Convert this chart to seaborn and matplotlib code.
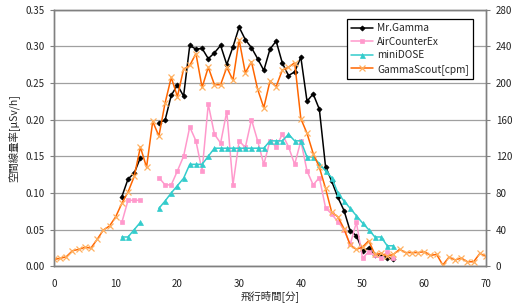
import numpy as np
import pandas as pd
import matplotlib
matplotlib.use("Agg")
import matplotlib.pyplot as plt
import seaborn as sns
from matplotlib.lines import Line2D

# ---- data ----
t_a = [11, 12, 13, 14]
t_b = list(range(17, 56))

gamma_a = [0.095, 0.119, 0.127, 0.148]
gamma_b = [0.196, 0.199, 0.233, 0.247, 0.232, 0.301, 0.296, 0.297, 0.283, 0.291,
           0.301, 0.275, 0.299, 0.326, 0.309, 0.298, 0.283, 0.267, 0.296, 0.307,
           0.277, 0.260, 0.265, 0.285, 0.225, 0.235, 0.214, 0.136, 0.116, 0.094,
           0.076, 0.048, 0.042, 0.021, 0.025, 0.015, 0.015, 0.012, 0.010]

air_a = [0.060, 0.090, 0.090, 0.090]
air_b = [0.121, 0.111, 0.111, 0.130, 0.150, 0.190, 0.171, 0.130, 0.221, 0.180,
         0.168, 0.211, 0.111, 0.171, 0.162, 0.200, 0.171, 0.139, 0.171, 0.163,
         0.180, 0.163, 0.139, 0.171, 0.130, 0.111, 0.121, 0.080, 0.071, 0.061,
         0.050, 0.030, 0.060, 0.011, 0.020, 0.015, 0.011, 0.020, 0.011]

mini_a = [0.040, 0.040, 0.050, 0.060]
mini_b = [0.079, 0.089, 0.100, 0.110, 0.120, 0.139, 0.139, 0.139, 0.150, 0.161,
          0.161, 0.161, 0.161, 0.161, 0.161, 0.161, 0.161, 0.161, 0.171, 0.171,
          0.171, 0.180, 0.171, 0.171, 0.149, 0.149, 0.140, 0.130, 0.121, 0.100,
          0.089, 0.079, 0.069, 0.059, 0.050, 0.040, 0.040, 0.028, 0.028]

t_scout = list(range(0, 71))
scout_cpm = [7.6, 8.7, 10.5, 17, 18.5, 20.7, 20, 29.4, 39.6, 44,
             54, 68.7, 81, 98, 130, 108, 158, 142, 178, 206,
             185, 215, 219, 232, 195, 217, 198, 198, 217, 203,
             247, 211, 223, 193, 173, 202, 196, 214, 217, 222,
             161, 145, 123, 108, 85, 59, 54, 41, 23, 18.5,
             21, 28, 13, 14, 11, 13, 18.5, 15, 15, 15,
             16, 12, 13, 1.4, 10, 7, 9, 5, 5, 14, 11]

names = ["Mr.Gamma", "AirCounterEx", "miniDOSE", "GammaScout[cpm]"]
left_ticks = [0.00, 0.05, 0.10, 0.15, 0.20, 0.25, 0.30, 0.35]
right_ticks = [0, 40, 80, 120, 160, 200, 240, 280]
x_ticks = [0, 10, 20, 30, 40, 50, 60, 70]

# ---- style ----
sns.set_style("white")
plt.rcParams['font.family'] = ['Noto Sans CJK JP', 'DejaVu Sans']

fig = plt.figure(figsize=(5.2, 3.03), dpi=100)
ax = fig.add_axes([0.1038, 0.121, 0.8308, 0.8476])
ax2 = ax.twinx()

styles = {
    "Mr.Gamma": dict(color="black", marker="D", markersize=2.6, mfc="black", mec="black"),
    "AirCounterEx": dict(color="#FF99CC", marker="s", markersize=3.2, mfc="#FF99CC", mec="#FF99CC"),
    "miniDOSE": dict(color="#33CCCC", marker="^", markersize=3.6, mfc="#33CCCC", mec="#33CCCC"),
    "GammaScout[cpm]": dict(color="#FF6600", marker="x", markersize=4.8, mfc="#FFB060", mec="#FFB060", mew=0.9),
}

def seg(axis, tx, vy, name):
    st = styles[name]
    sns.lineplot(x=tx, y=vy, ax=axis, color=st["color"], linewidth=1.1,
                 marker=st["marker"], markersize=st["markersize"],
                 markerfacecolor=st["mfc"], markeredgecolor=st["mec"],
                 markeredgewidth=st.get("mew", 0.5), legend=False)

seg(ax, t_a, gamma_a, "Mr.Gamma")
seg(ax, t_b, gamma_b, "Mr.Gamma")
seg(ax, t_a, air_a, "AirCounterEx")
seg(ax, t_b, air_b, "AirCounterEx")
seg(ax, t_a, mini_a, "miniDOSE")
seg(ax, t_b, mini_b, "miniDOSE")
seg(ax2, t_scout, scout_cpm, "GammaScout[cpm]")

ax.set_xlim(0, 70)
ax.set_ylim(0, 0.35)
ax2.set_ylim(0, 280)
ax.set_xticks(x_ticks)
ax.set_xticklabels([str(v) for v in x_ticks])
ax.set_yticks(left_ticks)
ax.set_yticklabels([f"{v:.2f}" for v in left_ticks])
ax2.set_yticks(right_ticks)
ax2.set_yticklabels([str(v) for v in right_ticks])

ax.grid(axis="y", color="#A0A0A0", linewidth=0.9)
ax.grid(axis="x", visible=False)
ax2.grid(False)
ax.set_axisbelow(True)

for a in (ax, ax2):
    for s in a.spines.values():
        s.set_color("#808080")
        s.set_linewidth(1.0)
    a.tick_params(axis="both", which="both", direction="out", length=3,
                  color="#808080", labelsize=7, labelcolor="#222222", pad=4)
ax.tick_params(axis="x", pad=6)

ax.set_xlabel("飛行時間[分]", fontsize=7.5, labelpad=1)
ax.set_ylabel("空間線量率[μSv/h]", fontsize=7.5, labelpad=4)
ax2.set_ylabel("Count Rate [cpm]", fontsize=7.5, labelpad=14)

handles = []
for n in names:
    st = styles[n]
    handles.append(Line2D([0], [0], color=st["color"], linewidth=1.1, marker=st["marker"],
                          markersize=st["markersize"], markerfacecolor=st["mfc"],
                          markeredgecolor=st["mec"], markeredgewidth=st.get("mew", 0.5)))
leg = ax2.legend(handles, names, loc="upper left", bbox_to_anchor=(0.678, 0.962),
                 fontsize=7.3, frameon=True, fancybox=False, framealpha=1,
                 edgecolor="black", handlelength=2.2, handletextpad=0.4,
                 labelspacing=0.35, borderpad=0.4, borderaxespad=0)
leg.get_frame().set_linewidth(0.9)

fig.savefig("out.png", dpi=100)
